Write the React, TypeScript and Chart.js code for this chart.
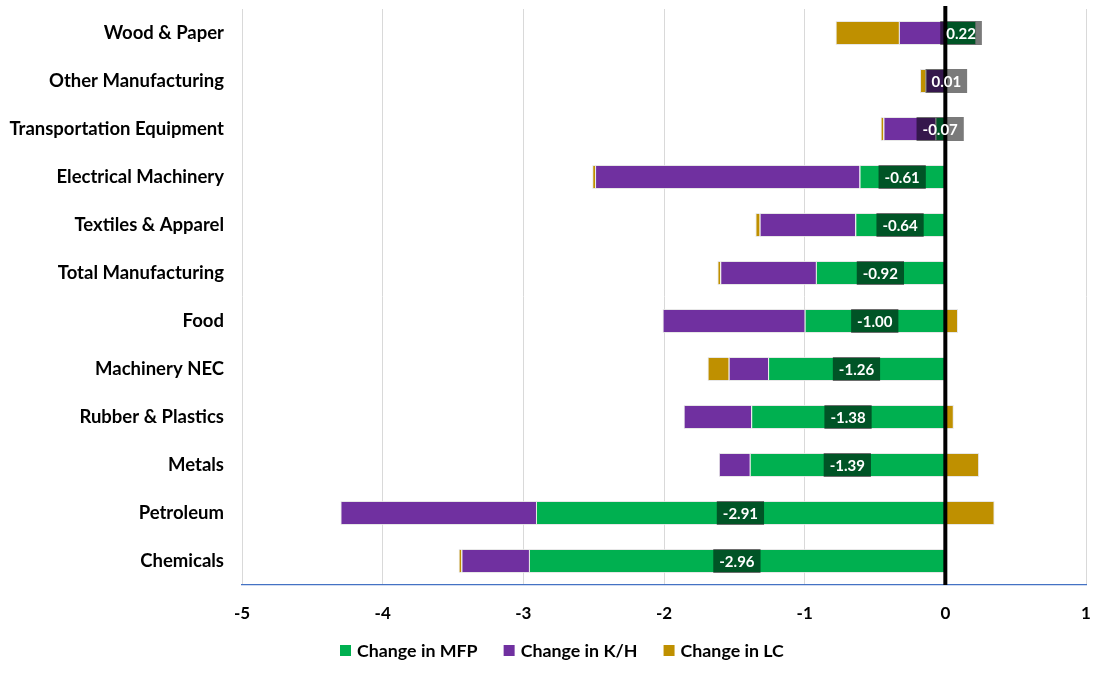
import React, { useEffect, useRef } from "react";
import { Chart, registerables } from "chart.js";

Chart.register(...registerables);

const categories = [
  "Wood & Paper",
  "Other Manufacturing",
  "Transportation Equipment",
  "Electrical Machinery",
  "Textiles & Apparel",
  "Total Manufacturing",
  "Food",
  "Machinery NEC",
  "Rubber & Plastics",
  "Metals",
  "Petroleum",
  "Chemicals",
];
const changeMFP = [0.22, 0.01, -0.07, -0.61, -0.64, -0.92, -1.0, -1.26, -1.38, -1.39, -2.91, -2.96];
const changeKH = [-0.33, -0.14, -0.37, -1.88, -0.68, -0.68, -1.01, -0.28, -0.48, -0.22, -1.39, -0.48];
const changeLC = [-0.45, -0.04, -0.02, -0.02, -0.03, -0.02, 0.09, -0.15, 0.06, 0.24, 0.35, -0.02];
const seriesNames = ["Change in MFP", "Change in K/H", "Change in LC"];
const seriesColors = ["#00B050", "#7030A0", "#BF9000"];
const xTicks = [-5, -4, -3, -2, -1, 0, 1];

const FONT = "Lato, 'Open Sans', sans-serif";

const overlayPlugin = {
  id: "overlay",
  afterDatasetsDraw(chart: any) {
    const { ctx, chartArea, scales } = chart;
    const x0 = scales.x.getPixelForValue(0);
    ctx.save();
    ctx.strokeStyle = "#000000";
    ctx.lineWidth = 4;
    ctx.beginPath();
    ctx.moveTo(x0, chartArea.top - 3);
    ctx.lineTo(x0, chartArea.bottom);
    ctx.stroke();

    const meta = chart.getDatasetMeta(0);
    ctx.font = `bold 15px ${FONT}`;
    ctx.textAlign = "center";
    ctx.textBaseline = "middle";
    meta.data.forEach((el: any, i: number) => {
      const v = changeMFP[i];
      const txt = v.toFixed(2);
      const cx = (el.x + el.base) / 2;
      const h = el.height;
      const w = ctx.measureText(txt).width + 12;
      ctx.fillStyle = "rgba(0,0,0,0.52)";
      ctx.fillRect(cx - w / 2, el.y - h / 2, w, h);
      ctx.fillStyle = "#FFFFFF";
      ctx.fillText(txt, cx, el.y + 1);
    });
    ctx.restore();
  },
  afterDraw(chart: any) {
    const { ctx } = chart;
    ctx.save();
    ctx.font = `bold 17.8px ${FONT}`;
    ctx.textAlign = "left";
    ctx.textBaseline = "middle";
    let x = 340;
    const cy = 650;
    seriesNames.forEach((name, i) => {
      ctx.fillStyle = seriesColors[i];
      ctx.fillRect(x, cy - 5, 11, 11);
      x += 11 + 6;
      ctx.fillStyle = "#000000";
      ctx.fillText(name, x, cy + 1);
      x += ctx.measureText(name).width + 26;
    });
    ctx.restore();
  },
};

export default function App() {
  const ref = useRef<HTMLCanvasElement | null>(null);
  useEffect(() => {
    document.body.style.margin = "0";
    if (!ref.current) return;
    const chart = new Chart(ref.current, {
      type: "bar",
      data: {
        labels: categories,
        datasets: seriesNames.map((name, i) => ({
          label: name,
          data: [changeMFP, changeKH, changeLC][i],
          backgroundColor: seriesColors[i],
          borderColor: "rgba(225,225,225,0.8)",
          borderWidth: 1,
        })),
      },
      options: {
        indexAxis: "y",
        animation: false,
        responsive: false,
        maintainAspectRatio: false,
        layout: { padding: { top: 9, right: 13, left: 0, bottom: 43 } },
        datasets: { bar: { barPercentage: 0.5, categoryPercentage: 1 } },
        scales: {
          x: {
            stacked: true,
            min: -5,
            max: 1,
            afterBuildTicks: (s: any) => {
              s.ticks = xTicks.map((v) => ({ value: v }));
            },
            afterFit: (s: any) => {
              s.paddingLeft = 0;
              s.paddingRight = 0;
              s.height = 45;
            },
            grid: { color: "#D9D9D9", lineWidth: 1, drawTicks: false },
            border: { display: true, color: "#4472C4", width: 1.3 },
            ticks: {
              padding: 18,
              color: "#000000",
              font: { family: FONT, size: 17, weight: "bold" },
              callback: (v: any) => String(v),
            },
          },
          y: {
            stacked: true,
            afterFit: (s: any) => {
              s.width = 242;
              s.paddingTop = 0;
              s.paddingBottom = 0;
            },
            grid: { display: false, drawTicks: false },
            border: { display: false },
            ticks: {
              padding: 18,
              color: "#000000",
              font: { family: FONT, size: 18.5, weight: "bold" },
            },
          },
        },
        plugins: {
          legend: { display: false },
          tooltip: { enabled: false },
        },
      },
      plugins: [overlayPlugin],
    } as any);
    return () => chart.destroy();
  }, []);
  return (
    <div style={{ width: 1099, height: 673, background: "#FFFFFF" }}>
      <canvas ref={ref} width={1099} height={673} style={{ display: "block" }} />
    </div>
  );
}
